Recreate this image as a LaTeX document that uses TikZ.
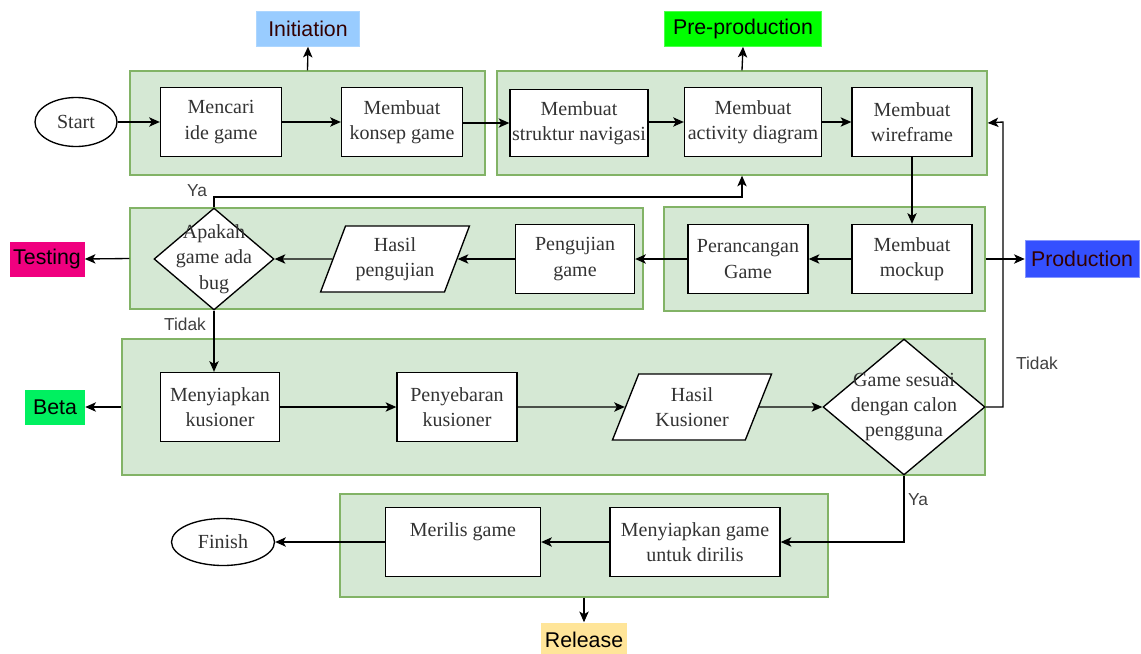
\documentclass[tikz,border=0pt]{standalone}
\usepackage{fontspec}
\setmainfont{Liberation Serif}
\setsansfont{Liberation Sans}
\usetikzlibrary{shapes.geometric,arrows.meta}
\definecolor{grpfill}{HTML}{D5E8D4}
\definecolor{grpline}{HTML}{82B366}
\definecolor{initc}{HTML}{99CCFF}
\definecolor{prec}{HTML}{00FF00}
\definecolor{testc}{HTML}{F0007F}
\definecolor{prodc}{HTML}{3450FF}
\definecolor{betac}{HTML}{00F060}
\definecolor{relc}{HTML}{FFE599}
\definecolor{darktxt}{HTML}{330000}
\begin{document}
\begin{tikzpicture}[x=0.75pt,y=-0.75pt,
  sz/.style 2 args={minimum width=#1*0.75pt, minimum height=#2*0.75pt},
  grp/.style={draw=grpline, fill=grpfill, line width=1pt, inner sep=0pt},
  proc/.style={draw=black, fill=white, line width=1pt, inner sep=1pt, align=center,
    font=\fontsize{15}{19}\selectfont, text=black!80},
  para/.style={proc, trapezium, trapezium left angle=66, trapezium right angle=114,
    trapezium stretches=true},
  dec/.style={draw=black, fill=white, line width=1pt, diamond, inner sep=0pt},
  term/.style={draw=black, fill=white, line width=1pt, ellipse, inner sep=0pt,
    font=\fontsize{15}{19}\selectfont, text=black!80},
  phase/.style={inner sep=0pt, font=\sffamily\fontsize{16}{19}\selectfont},
  lbl/.style={font=\sffamily\fontsize{13}{16}\selectfont, text=black!75},
  arr/.style={line width=1pt, -{Stealth[length=8pt,width=7pt,inset=2pt]}},
  ln/.style={line width=1pt}
]
\useasboundingbox (0,0) rectangle (1141,653);

% groups
\node[grp, sz={355}{104}] (g1) at (307.5,123) {};
\node[grp, sz={490}{104}] (g2) at (742,123) {};
\node[grp, sz={513}{101}] (gt) at (386.5,258.5) {};
\node[grp, sz={321}{104}] (gp) at (824.5,259) {};
\node[grp, sz={863}{136}] (gb) at (553.5,407) {};
\node[grp, sz={488}{103}] (gr) at (584,545.5) {};

% phase labels
\node[phase, fill=initc, draw=initc!80!white, sz={103}{35}, text=darktxt] (init) at (308,29) {Initiation};
\node[phase, fill=prec, draw=prec!70!white, sz={157}{35}] (pre) at (743,29) {Pre-production};
\node[phase, fill=testc, sz={75}{35}] (test) at (47,259) {Testing};
\node[phase, fill=prodc, draw=prodc!60!white, sz={114}{37}, text=darktxt] (prod) at (1082,259) {Production};
\node[phase, fill=betac, sz={60}{35}] (beta) at (55,407) {Beta};
\node[phase, fill=relc, sz={86}{35}] (rel) at (584,640) {Release};

% row 1
\node[term, sz={82}{49}] (start) at (76,122) {Start};
\node[proc, sz={121}{69}] (ide) at (221,122) {Mencari\\ide game};
\node[proc, sz={121}{69}] (konsep) at (402,122) {Membuat\\konsep game};
\node[proc, sz={138}{67}, inner sep=0pt] (nav) at (579,123) {Membuat\\struktur navigasi};
\node[proc, sz={137}{69}, inner sep=0pt] (act) at (753,122) {Membuat\\activity diagram};
\node[proc, sz={120}{69}] (wire) at (912,122) {Membuat\\wireframe};

% row 2
\node[proc, sz={120}{69}] (mock) at (912,259) {Membuat\\mockup};
\node[proc, sz={120}{69}] (ranc) at (748,259) {Perancangan\\Game};
\node[proc, sz={119}{69}] (uji) at (575,259) {Pengujian\\game};
\node[para, sz={150}{66}] (hasil) at (395,259) {Hasil\\pengujian};
\node[dec, sz={120}{102}, label={[align=center,font=\fontsize{15}{19}\selectfont,text=black!80]center:Apakah\\game ada\\bug}] (d1) at (214,259) {};

% row 3
\node[proc, sz={119}{69}] (kus) at (220,407) {Menyiapkan\\kusioner};
\node[proc, sz={120}{69}] (sebar) at (457,407) {Penyebaran\\kusioner};
\node[para, sz={160}{66}] (hkus) at (692,407) {Hasil\\Kusioner};
\node[dec, sz={162}{136}, label={[align=center,font=\fontsize{15}{19}\selectfont,text=black!80]center:Game sesuai\\dengan calon\\pengguna}] (d2) at (904,407) {};

% row 4
\node[proc, sz={170}{69}] (siap) at (695,542) {Menyiapkan game\\untuk dirilis};
\node[proc, sz={155}{69}] (rilis) at (463,542) {Merilis game\\\mbox{}};
\node[term, sz={103}{47}] (fin) at (223,542) {Finish};

% labels
\node[lbl] (ya1) at (197,191) {Ya};
\node[lbl] (td1) at (185,324) {Tidak};
\node[lbl] (td2) at (1037,363) {Tidak};
\node[lbl] (ya2) at (918,500) {Ya};

% phase arrows
\draw[arr] (g1.north) -- (init.south);
\draw[arr] (g2.north) -- (pre.south);
\draw[arr] (gt.west) -- (test.east);
\draw[arr] (gp.east) -- (prod.west);
\draw[arr] (gb.west) -- (beta.east);
\draw[arr] (gr.south) -- (rel.north);

% flow
\draw[arr] (start) -- (ide);
\draw[arr] (ide) -- (konsep);
\draw[arr] (konsep.east |- nav.west) -- (nav.west);
\draw[arr] (nav.east |- act.west) -- (act.west);
\draw[arr] (act) -- (wire);
\draw[arr] (wire.south) -- (mock.north);
\draw[arr] (mock) -- (ranc);
\draw[arr] (ranc) -- (uji);
\draw[arr] (uji) -- (hasil);
\draw[arr] (hasil) -- (d1);
\coordinate (yac) at (214,197);
\draw[arr] (d1.north) -- (yac) -| (g2.south);
\draw[arr] (d1.south) -- (d1.south |- kus.north);
\draw[arr] (kus) -- (sebar);
\draw[arr] (sebar) -- (hkus);
\draw[arr] (hkus) -- (d2);
\coordinate (tr) at (1003,122);
\draw[arr] (d2.east) -| (tr) -- (g2.east);
\draw[arr] (d2.south) |- (siap.east);
\draw[arr] (siap) -- (rilis);
\draw[arr] (rilis) -- (fin);
\end{tikzpicture}
\end{document}
